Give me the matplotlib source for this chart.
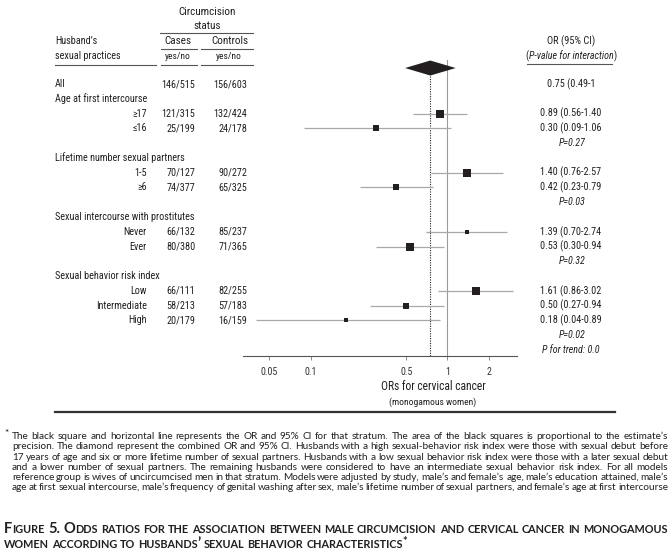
import matplotlib
matplotlib.use('Agg')
import matplotlib.pyplot as plt
from matplotlib import font_manager as fm
from matplotlib.lines import Line2D
import numpy as np

W, H = 672, 558
_names = {f.name for f in fm.fontManager.ttflist}


def pick(*cands):
    for n in cands:
        if n in _names:
            return n
    return 'DejaVu Sans'


COND = pick('Liberation Sans Narrow', 'Roboto Condensed', 'DejaVu Sans')
HUM = pick('Lato', 'Open Sans', 'DejaVu Sans')

# ---------------- data ----------------
overall_cases = "146/515"
overall_controls = "156/603"
overall_or = 0.75
overall_lo = 0.49
overall_hi = 1.15
overall_text = "0.75 (0.49-1"

groups = ["Age at first intercourse", "Lifetime number sexual partners",
          "Sexual intercourse with prostitutes", "Sexual behavior risk index"]
strata = [["\u226517", "\u226416"], ["1-5", "\u22656"], ["Never", "Ever"],
          ["Low", "Intermediate", "High"]]
cases = [["121/315", "25/199"], ["70/127", "74/377"], ["66/132", "80/380"],
         ["66/111", "58/213", "20/179"]]
controls = [["132/424", "24/178"], ["90/272", "65/325"], ["85/237", "71/365"],
            ["82/255", "57/183", "16/159"]]
or_vals = [[0.89, 0.30], [1.40, 0.42], [1.39, 0.53], [1.61, 0.50, 0.18]]
ci_lo = [[0.56, 0.09], [0.76, 0.23], [0.70, 0.30], [0.86, 0.27, 0.04]]
ci_hi = [[1.40, 1.06], [2.57, 0.79], [2.74, 0.94], [3.02, 0.94, 0.89]]
precision_area = [[64, 45], [59, 45], [18.5, 76], [53, 45, 14]]
p_interaction = ["P=0.27", "P=0.03", "P=0.32", "P=0.02"]
p_trend = "P for trend: 0.0"
xticks = [0.05, 0.1, 0.5, 1, 2]
xticklabels = ["0.05", "0.1", "0.5", "1", "2"]

footnote_lines = [
    "The black square and horizontal line represents the OR and 95% CI for that stratum. The area of the black squares is proportional to the estimate\u2019s",
    "precision. The diamond represent the combined OR and 95% CI. Husbands with a high sexual-behavior risk index were those with sexual debut before",
    "17 years of age and six or more lifetime number of sexual partners. Husbands with a low sexual behavior risk index were those with a later sexual debut",
    "and a lower number of sexual partners. The remaining husbands were considered to have an intermediate sexual behavior risk index. For all models",
    "reference group is wives of uncircumcised men in that stratum. Models were adjusted by study, male\u2019s and female\u2019s age, male\u2019s education attained, male\u2019s",
    "age at first sexual intercourse, male\u2019s frequency of genital washing after sex, male\u2019s lifetime number of sexual partners, and female\u2019s age at first intercourse",
]
caption_lines = [
    "Figure 5. Odds ratios for the association between male circumcision and cervical cancer in monogamous",
    "women according to husbands\u2019 sexual behavior characteristics*",
]

# ---------------- figure ----------------
fig = plt.figure(figsize=(W / 100, H / 100), dpi=100)
fig.patch.set_facecolor('white')
renderer = fig.canvas.get_renderer()
TXT = '#231f20'
FAM = [COND, 'DejaVu Sans']


def X(px):
    return px / W


def Y(py):
    return 1 - py / H


def put(px, py, s, ha='left', va='center', size=7.3, style='normal',
        family=None, color=TXT):
    return fig.text(X(px), Y(py), s, ha=ha, va=va, fontsize=size,
                    family=family or FAM, style=style, color=color)


def hline(x0, x1, y, lw=0.8, color='#555555'):
    fig.add_artist(Line2D([X(x0), X(x1)], [Y(y), Y(y)],
                          transform=fig.transFigure, color=color, lw=lw))


def width_of(s, **kw):
    t = fig.text(0, 0, s, **kw)
    w = t.get_window_extent(renderer).width
    t.remove()
    return w


def draw_runs(x, yb, runs, ha='left'):
    widths = [width_of(t, **kw) for t, kw, dy in runs]
    total = sum(widths)
    if ha == 'center':
        x -= total / 2
    for (t, kw, dy), w in zip(runs, widths):
        fig.text(X(x), Y(round(yb - dy)), t, ha='left', va='baseline', **kw)
        x += w
    return total


def row_y(k):
    return 84 + 14.78 * k


# ---------------- header ----------------
put(207, 12, 'Circumcision', ha='center', size=8)
put(207, 26, 'status', ha='center', size=8)
hline(160, 253, 33)
put(55, 41, "Husband\u2019s", size=7.3)
put(178, 41, 'Cases', ha='center', size=8)
put(230, 41, 'Controls', ha='center', size=8)
hline(161, 197, 49)
hline(201, 253, 49)
put(55, 56, 'sexual practices', size=7.3)
put(178, 56, 'yes/no', ha='center', size=6.8)
put(229, 56, 'yes/no', ha='center', size=6.8)
hline(55, 156, 65)
hline(161, 197, 65)
hline(201, 253, 65)

put(571, 41, 'OR (95% CI)', ha='center', size=7.5)
kw_n = dict(fontsize=7.2, family=FAM, color=TXT)
kw_i = dict(fontsize=7.2, family=FAM, color=TXT, style='italic')
draw_runs(571, 59, [("(", kw_n, 0), ("P-value for interaction", kw_i, 0),
                    (")", kw_n, 0)], ha='center')
hline(527, 612, 64)

# ---------------- forest axes ----------------
A = 447.4
B = 59.4
ax = fig.add_axes([X(243), Y(356), (517 - 243) / W, (356 - 55) / H])
ax.set_xscale('log')
ax.set_xlim(np.exp((243 - A) / B), np.exp((517 - A) / B))
ky = lambda py: (py - 84) / 14.78
ax.set_ylim(ky(356), ky(55))
ax.patch.set_alpha(0)
for s in ['left', 'right', 'top']:
    ax.spines[s].set_visible(False)
ax.spines['bottom'].set_color('#555555')
ax.spines['bottom'].set_linewidth(0.8)
ax.set_yticks([])
ax.set_xticks(xticks)
ax.set_xticklabels(xticklabels)
ax.xaxis.set_minor_locator(matplotlib.ticker.NullLocator())
ax.tick_params(axis='x', direction='out', length=3, width=0.6, color='#777777',
               labelsize=7.2, labelcolor='#333333', pad=5)
for lab in ax.get_xticklabels():
    lab.set_family(FAM)

# reference lines
ax.plot([1, 1], [ky(60), ky(356)], color='#9a9a9a', lw=0.8, zorder=1)
dk = -1.08
dh = 7.5 / 14.78
ax.plot([overall_or, overall_or], [dk + dh, ky(356)], color='#222222', lw=0.8,
        ls=(0, (1, 1.2)), zorder=1)
ax.fill([overall_lo, overall_or, overall_hi, overall_or],
        [dk, dk - dh, dk, dk + dh], color='#231f20', lw=0, zorder=3)

# ---------------- rows ----------------
put(55, row_y(0), 'All')
put(195.5, row_y(0), overall_cases, ha='right')
put(247.5, row_y(0), overall_controls, ha='right')
put(571, row_y(0), overall_text, ha='center')

k = 1
for g in range(len(groups)):
    put(55, row_y(k), groups[g])
    k += 1
    for j in range(len(strata[g])):
        yk = row_y(k)
        put(147, yk, strata[g][j], ha='right')
        put(195.5, yk, cases[g][j], ha='right')
        put(247.5, yk, controls[g][j], ha='right')
        put(571, yk, f"{or_vals[g][j]:.2f} ({ci_lo[g][j]:.2f}-{ci_hi[g][j]:.2f}",
            ha='center')
        ax.plot([ci_lo[g][j], ci_hi[g][j]], [k, k], color='#a8a8a8', lw=0.9,
                zorder=2, solid_capstyle='butt')
        side = np.sqrt(precision_area[g][j])
        ax.plot([or_vals[g][j]], [k], marker='s', ms=side * 0.72,
                color='#231f20', mec='#231f20', mew=0, zorder=4)
        k += 1
    put(572, row_y(k), p_interaction[g], ha='center', style='italic', size=7.2)
    k += 1
put(571, row_y(k), p_trend, ha='center', style='italic', size=7.2)

put(433, 386, 'ORs for cervical cancer', ha='center', size=8.3)
put(433, 402, '(monogamous women)', ha='center', size=6.8)
hline(55, 615, 412, lw=1.6, color='#333333')


# ---------------- footnote (justified, auto-fitted size) ----------------
def fkw(size):
    return dict(fontsize=size, family=[HUM, 'DejaVu Sans'], color=TXT)


def natural_width(line, kw):
    words = line.split(' ')
    sp = width_of('a a', **kw) - width_of('aa', **kw)
    return sum(width_of(w, **kw) for w in words) + 0.6 * sp * (len(words) - 1)


base = 6.0
nat = max(natural_width(l, fkw(base)) for l in footnote_lines)
fsize = base * (656 - 2) / nat
FKW = fkw(fsize)
fig.text(X(4), Y(436), '*', ha='left', va='baseline', **FKW)
for i, line in enumerate(footnote_lines):
    yb = round(439 + 10.3 * i)
    words = line.split(' ')
    ws = [width_of(w, **FKW) for w in words]
    gap = (668 - 12 - sum(ws)) / (len(words) - 1)
    x = 12
    for w, wd in zip(words, ws):
        fig.text(X(x), Y(yb), w, ha='left', va='baseline', **FKW)
        x += wd + gap


# ---------------- caption (small caps, auto-fitted) ----------------
def sc_runs(word, BIG, SMALL):
    runs = []
    for ch in word:
        if ch == '*':
            st, c, dy = 'sup', ch, 3
        elif ch.islower():
            st, c, dy = 'small', ch.upper(), 0
        else:
            st, c, dy = 'big', ch, 0
        if runs and runs[-1][0] == st:
            runs[-1][1] += c
        else:
            runs.append([st, c, dy])
    return [(c, BIG if st == 'big' else SMALL, dy) for st, c, dy in runs]


def cap_kws(scale):
    big = dict(fontsize=8.9 * scale, family=[HUM, 'DejaVu Sans'], color=TXT,
               weight='bold')
    small = dict(fontsize=6.6 * scale, family=[HUM, 'DejaVu Sans'], color=TXT,
                 weight='bold')
    return big, small


def caption_width(line, big, small):
    words = line.split(' ')
    sp = width_of('A A', **small) - width_of('AA', **small)
    tot = 0
    for w in words:
        tot += sum(width_of(t, **kw) for t, kw, dy in sc_runs(w, big, small))
    return tot + sp * (len(words) - 1), sp


b0, s0 = cap_kws(1.0)
nat_c, _ = caption_width(caption_lines[0], b0, s0)
cscale = min(1.25, (664 - 8) / nat_c)
BIG, SMALL = cap_kws(cscale)
space_small = width_of('A A', **SMALL) - width_of('AA', **SMALL)
cap_base = [533, 548]
for i, line in enumerate(caption_lines):
    words = line.split(' ')
    wruns = [sc_runs(w, BIG, SMALL) for w in words]
    wws = [sum(width_of(t, **kw) for t, kw, dy in r) for r in wruns]
    if i == 0:
        gap = (668 - 4 - sum(wws)) / (len(words) - 1)
    else:
        gap = space_small * 1.1
    x = 4
    for r, wd in zip(wruns, wws):
        xx = x
        for t, kw, dy in r:
            fig.text(X(xx), Y(cap_base[i] - dy), t, ha='left', va='baseline', **kw)
            xx += width_of(t, **kw)
        x += wd + gap

fig.savefig('out.png', dpi=100, facecolor='white')
